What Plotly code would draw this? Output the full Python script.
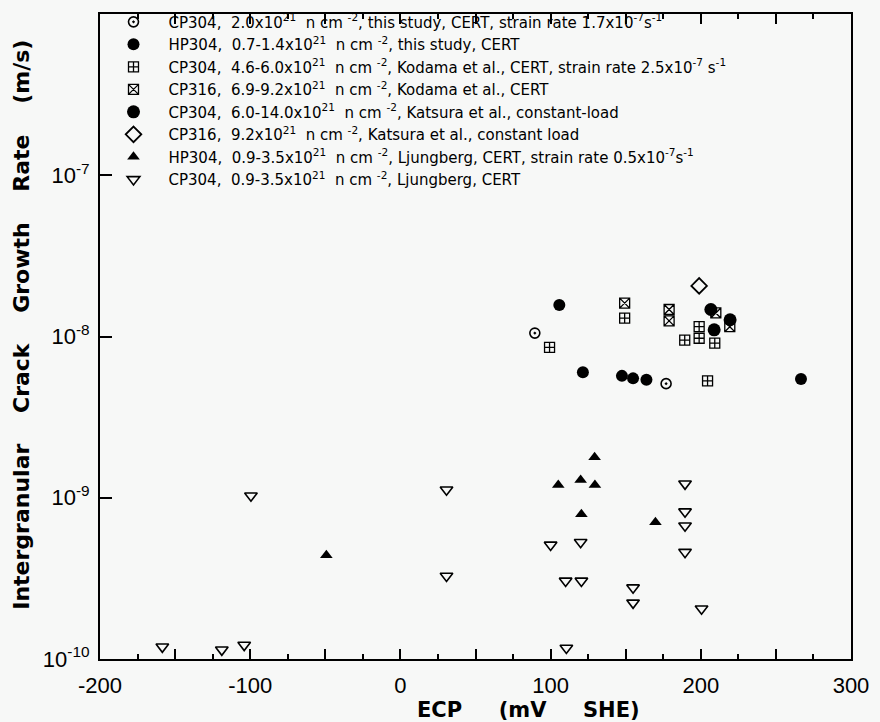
import math
import plotly.graph_objects as go

# ---- data (ECP in mV SHE, crack growth rate in m/s) ----
cp304_study_x = [89.5, 176.9]
cp304_study_y = [1.05e-8, 5.1e-9]

hp304_study_x = [105.8, 121.5, 147.5, 154.9, 163.8, 266.7]
hp304_study_y = [1.57e-8, 6.0e-9, 5.7e-9, 5.5e-9, 5.4e-9, 5.45e-9]

cp304_kod_x = [99.3, 149.3, 189.3, 198.9, 198.9, 209.3, 204.5]
cp304_kod_y = [8.57e-9, 1.30e-8, 9.5e-9, 1.15e-8, 9.75e-9, 9.1e-9, 5.3e-9]

cp316_kod_x = [149.3, 178.9, 178.9, 210.0, 219.3]
cp316_kod_y = [1.61e-8, 1.47e-8, 1.25e-8, 1.40e-8, 1.15e-8]

cp304_kat_x = [206.7, 208.9, 219.5]
cp304_kat_y = [1.47e-8, 1.10e-8, 1.27e-8]

cp316_kat_x = [198.9]
cp316_kat_y = [2.06e-8]

hp304_lj_x = [129.3, 105.1, 120.0, 129.5, 120.5, 169.8, -49.3]
hp304_lj_y = [1.78e-9, 1.20e-9, 1.29e-9, 1.20e-9, 7.9e-10, 7.05e-10, 4.4e-10]

cp304_lj_x = [-99.5, -158.5, -118.9, -104.0, 30.7, 30.7, 100.0, 120.0, 110.0,
              120.5, 154.9, 154.9, 189.5, 189.5, 189.5, 189.5, 200.5, 110.5]
cp304_lj_y = [1.03e-9, 1.19e-10, 1.14e-10, 1.22e-10, 1.12e-9, 3.27e-10, 5.1e-10,
              5.3e-10, 3.05e-10, 3.05e-10, 2.77e-10, 2.23e-10, 1.22e-9, 8.2e-10,
              6.7e-10, 4.6e-10, 2.05e-10, 1.17e-10]

labels = [
    "CP304,\u00a0 2.0x10<sup>21</sup>\u00a0 n cm <sup>-2</sup>, this study, CERT, strain rate 1.7x10<sup>-7</sup>s<sup>-1</sup>",
    "HP304,\u00a0 0.7-1.4x10<sup>21</sup>\u00a0 n cm <sup>-2</sup>, this study, CERT",
    "CP304,\u00a0 4.6-6.0x10<sup>21</sup>\u00a0 n cm <sup>-2</sup>, Kodama et al., CERT, strain rate 2.5x10<sup>-7</sup> s<sup>-1</sup>",
    "CP316,\u00a0 6.9-9.2x10<sup>21</sup>\u00a0 n cm <sup>-2</sup>, Kodama et al., CERT",
    "CP304,\u00a0 6.0-14.0x10<sup>21</sup>\u00a0 n cm <sup>-2</sup>, Katsura et al., constant-load",
    "CP316,\u00a0 9.2x10<sup>21</sup>\u00a0 n cm <sup>-2</sup>, Katsura et al., constant load",
    "HP304,\u00a0 0.9-3.5x10<sup>21</sup>\u00a0 n cm <sup>-2</sup>, Ljungberg, CERT, strain rate 0.5x10<sup>-7</sup>s<sup>-1</sup>",
    "CP304,\u00a0 0.9-3.5x10<sup>21</sup>\u00a0 n cm <sup>-2</sup>, Ljungberg, CERT",
]

series = [
    (cp304_study_x, cp304_study_y, "circle-open-dot", 10, 1.6),
    (hp304_study_x, hp304_study_y, "circle", 12, 0),
    (cp304_kod_x, cp304_kod_y, "square-cross-open", 10, 1.3),
    (cp316_kod_x, cp316_kod_y, "square-x-open", 10, 1.3),
    (cp304_kat_x, cp304_kat_y, "circle", 13, 0),
    (cp316_kat_x, cp316_kat_y, "diamond-open", 12, 1.8),
    (hp304_lj_x, hp304_lj_y, "triangle-up", 11, 0),
    (cp304_lj_x, cp304_lj_y, "triangle-down-open", 11, 1.6),
]

FONT = "Liberation Sans, Arial, Helvetica, sans-serif"
TFONT = "DejaVu Sans, Liberation Sans, sans-serif"
SP = "\u00a0\u00a0\u00a0\u00a0"
SPX = "\u00a0\u00a0\u00a0\u00a0\u00a0"

W, H = 880, 722
ML, MR, MT, MB = 100, 29, 14, 63
PLOT_W = W - ML - MR

fig = go.Figure()
for i, ((xs, ys, sym, sz, lw), lab) in enumerate(zip(series, labels)):
    fig.add_trace(go.Scatter(
        x=xs, y=ys, mode="markers", name=lab, legendgroup=f"g{i}",
        marker=dict(symbol=sym, size=sz, color="black",
                    line=dict(color="black", width=lw)),
    ))

# empty trace so the top overlay axis (mirrored x ticks) is drawn
fig.add_trace(go.Scatter(x=[], y=[], xaxis="x2", yaxis="y2", showlegend=False, hoverinfo="skip"))

y_tickvals = [1e-10, 1e-9, 1e-8, 1e-7, 1e-6]
y_ticktext = ["10<sup>-10</sup>", "10<sup>-9</sup>", "10<sup>-8</sup>", "10<sup>-7</sup>", "10<sup>-6</sup>"]
y_minor = [k * 10.0 ** e for e in range(-10, -6) for k in range(2, 10)]

x_tickvals = [-200, -150, -100, -50, 0, 50, 100, 150, 200, 250, 300]
x_ticktext = ["-200", "", "-100", "", "0", "", "100", "", "200", "", "300"]
x_minor = [-175, -125, -75, -25, 25, 75, 125, 175, 225, 275]
x_range = [-200, 300]

common = dict(showgrid=False, zeroline=False, automargin=False, ticks="inside",
              tickwidth=2, tickcolor="black")
xminor = dict(ticks="inside", ticklen=5, tickwidth=1.5, tickcolor="black", tickvals=x_minor)

# y-axis tick marks on the left and right frame edges
# (shapes on a log axis take log10 of the tick value; x in paper fraction of the plot width)
tick_shapes = []
for vals, length, width in ((y_tickvals, 12, 2), (y_minor, 6, 1.5)):
    frac = length / PLOT_W
    for v in vals:
        lv = math.log10(v)
        tick_shapes.append(dict(type="line", xref="paper", x0=0, x1=frac,
                                yref="y", y0=lv, y1=lv, layer="above",
                                line=dict(color="black", width=width)))
        tick_shapes.append(dict(type="line", xref="paper", x0=1 - frac, x1=1,
                                yref="y", y0=lv, y1=lv, layer="above",
                                line=dict(color="black", width=width)))

fig.update_layout(
    width=W, height=H,
    margin=dict(l=ML, r=MR, t=MT, b=MB, autoexpand=False),
    paper_bgcolor="#f7f8f7", plot_bgcolor="#f7f8f7",
    font=dict(family=FONT, color="black"),
    showlegend=True,
    legend=dict(
        x=-0.002, y=1.013, xanchor="left", yanchor="top",
        bgcolor="rgba(0,0,0,0)", font=dict(size=15, family=TFONT),
        itemwidth=60, tracegroupgap=0, itemclick=False,
    ),
    xaxis=dict(
        range=x_range, showline=True, linecolor="black", linewidth=2, mirror=True,
        ticklen=10, tickvals=x_tickvals, ticktext=x_ticktext, ticklabelstandoff=6,
        tickfont=dict(size=22, family=FONT), minor=xminor, **common,
    ),
    xaxis2=dict(
        range=x_range, overlaying="x", anchor="y", side="top", showline=False,
        showticklabels=False, ticklen=10, tickvals=x_tickvals, minor=xminor, **common,
    ),
    yaxis=dict(
        type="log", range=[-10, -6], showline=True, linecolor="black", linewidth=2, mirror=True,
        showgrid=False, zeroline=False, automargin=False, ticks="inside", ticklen=12,
        tickwidth=2, tickcolor="black",
        tickvals=y_tickvals, ticktext=y_ticktext, ticklabelstandoff=4,
        tickfont=dict(size=22, family=FONT),
    ),
    yaxis2=dict(
        type="log", range=[-10, -6], overlaying="y", anchor="x2", side="right",
        showline=False, showticklabels=False, showgrid=False, zeroline=False, ticks="",
    ),
    shapes=tick_shapes,
    annotations=[
        dict(text="<b>ECP" + SPX + "(mV" + SPX + "SHE)</b>", xref="paper", yref="paper",
             x=0.57, y=-0.0785, xanchor="center", yanchor="middle", showarrow=False,
             font=dict(size=21, family=TFONT)),
        dict(text="<b>Intergranular" + SP + "Crack" + SP + "Growth" + SP + "Rate" + SP + "(m/s)</b>",
             xref="paper", yref="paper", x=-0.104, y=0.518, xanchor="center", yanchor="middle",
             textangle=-90, showarrow=False, font=dict(size=22, family=TFONT)),
    ],
)

fig.write_html("out.html")
